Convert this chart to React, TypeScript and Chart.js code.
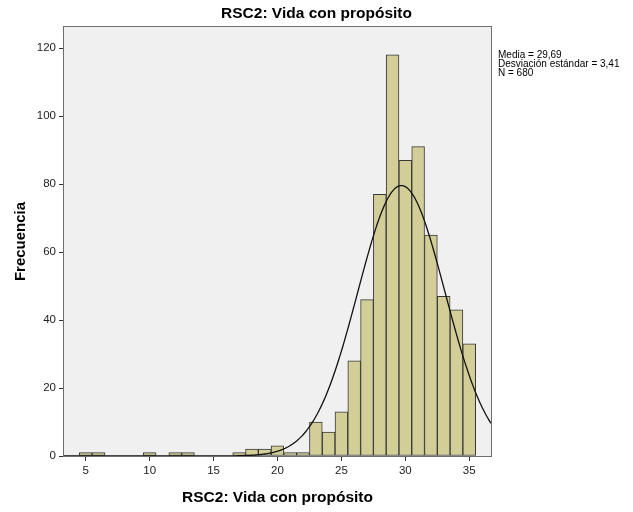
import React, { useEffect, useRef } from "react";
import { Chart, registerables } from "chart.js";

Chart.register(...registerables);

// ---- data ----
const TITLE = "RSC2: Vida con propósito";
const X_TITLE = "RSC2: Vida con propósito";
const Y_TITLE = "Frecuencia";
const BIN_CENTERS = [5, 6, 10, 12, 13, 17, 18, 19, 20, 21, 22, 23, 24, 25, 26, 27, 28, 29, 30, 31, 32, 33, 34, 35];
const FREQUENCIES = [1, 1, 1, 1, 1, 1, 2, 2, 3, 1, 1, 10, 7, 13, 28, 46, 77, 118, 87, 91, 65, 47, 43, 33];
const X_TICKS = [5, 10, 15, 20, 25, 30, 35];
const Y_TICKS = [0, 20, 40, 60, 80, 100, 120];
const MEAN = 29.69;
const SD = 3.41;
const N = 680;
const BIN_WIDTH = 1;
const STATS_LINES = ["Media = 29,69", "Desviación estándar = 3,41", "N = 680"];
const X_MIN = 3.3;
const X_MAX = 36.7;
const Y_MAX = 126.2;

// fitted normal curve defined by the stated mean / sd / N
const CURVE_X: number[] = [];
for (let i = 0; i <= 334; i++) CURVE_X.push(X_MIN + i * 0.1);
const normalCount = (x: number) =>
  (N * BIN_WIDTH) / (SD * Math.sqrt(2 * Math.PI)) * Math.exp(-((x - MEAN) ** 2) / (2 * SD * SD));

const FONT = "'Liberation Sans', Arial, sans-serif";

const frame = {
  id: "frame",
  beforeDraw(chart: any) {
    const { ctx, chartArea } = chart;
    const { left, top, right, bottom } = chartArea;
    ctx.save();
    ctx.fillStyle = "#f0f0f0";
    ctx.fillRect(left, top, right - left, bottom - top);
    ctx.restore();
  },
  afterDatasetsDraw(chart: any) {
    const { ctx, chartArea } = chart;
    const { left, top, right, bottom } = chartArea;
    ctx.save();
    ctx.strokeStyle = "#6e6e6e";
    ctx.lineWidth = 1;
    ctx.strokeRect(Math.round(left) - 0.5, Math.round(top) - 0.5, Math.round(right - left) + 1, Math.round(bottom - top) + 1);
    ctx.restore();
  },
  afterDraw(chart: any) {
    const { ctx, chartArea, width } = chart;
    ctx.save();
    ctx.fillStyle = "#000";
    ctx.textBaseline = "middle";
    ctx.textAlign = "center";
    ctx.font = `bold 15.5px ${FONT}`;
    ctx.fillText(TITLE, width / 2, 14);
    ctx.textAlign = "left";
    ctx.font = `10px ${FONT}`;
    STATS_LINES.forEach((t, i) => ctx.fillText(t, chartArea.right + 7, chartArea.top + 28 + i * 9.2));
    ctx.restore();
  },
};

export default function App() {
  const ref = useRef<HTMLCanvasElement>(null);
  useEffect(() => {
    if (!ref.current) return;
    const chart = new Chart(ref.current, {
      type: "bar",
      data: {
        datasets: [
          {
            type: "line",
            data: CURVE_X.map((x) => ({ x, y: normalCount(x) })),
            borderColor: "#111",
            borderWidth: 1.3,
            pointRadius: 0,
            tension: 0,
            fill: false,
            order: 0,
          } as any,
          {
            type: "bar",
            data: BIN_CENTERS.map((x, i) => ({ x, y: FREQUENCIES[i] })),
            backgroundColor: "#d3ce97",
            borderColor: "#383838",
            borderWidth: 1,
            borderSkipped: false,
            barPercentage: 1,
            categoryPercentage: 1,
            order: 1,
          } as any,
        ],
      },
      options: {
        animation: false,
        responsive: false,
        events: [],
        layout: { padding: { left: 0, right: 142, top: 27, bottom: 0 } },
        plugins: {
          legend: { display: false },
          tooltip: { enabled: false },
          title: { display: false },
        },
        scales: {
          x: {
            type: "linear",
            min: X_MIN,
            max: X_MAX,
            offset: false,
            afterFit: (s: any) => {
              s.height = 56;
            },
            afterBuildTicks: (s: any) => {
              s.ticks = X_TICKS.map((v) => ({ value: v }));
            },
            ticks: { color: "#222", font: { family: FONT, size: 11.5 }, padding: 3, maxRotation: 0, autoSkip: false },
            grid: { display: true, offset: false, drawOnChartArea: false, drawTicks: true, tickLength: 5, color: "#333" },
            border: { display: false },
            title: {
              display: true,
              text: X_TITLE,
              color: "#000",
              font: { family: FONT, size: 15.5, weight: "bold", lineHeight: 1.2 },
              padding: { top: 0, bottom: 5 },
            },
          },
          y: {
            type: "linear",
            min: 0,
            max: Y_MAX,
            afterFit: (s: any) => {
              s.width = 64;
            },
            afterBuildTicks: (s: any) => {
              s.ticks = Y_TICKS.map((v) => ({ value: v }));
            },
            ticks: { color: "#222", font: { family: FONT, size: 11.5 }, padding: 3, autoSkip: false },
            grid: { display: true, offset: false, drawOnChartArea: false, drawTicks: true, tickLength: 5, color: "#333" },
            border: { display: false },
            title: {
              display: true,
              text: Y_TITLE,
              color: "#000",
              font: { family: FONT, size: 15, weight: "bold", lineHeight: 1.2 },
              padding: { top: 12, bottom: 0 },
            },
          },
        },
      } as any,
      plugins: [frame],
    });
    return () => chart.destroy();
  }, []);
  return (
    <div style={{ position: "fixed", left: 0, top: 0, width: 633, height: 512, background: "#fff" }}>
      <canvas ref={ref} width={633} height={512} style={{ display: "block" }} />
    </div>
  );
}
